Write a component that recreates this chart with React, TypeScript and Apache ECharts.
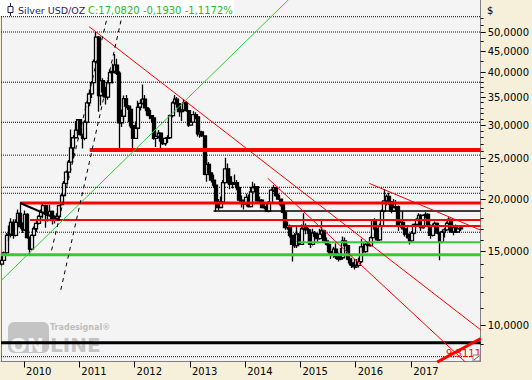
import React, { useEffect, useRef } from 'react';
import * as echarts from 'echarts';

const FONT = '"DejaVu Sans", Verdana, sans-serif';

// ---- axis extents ----
const X_MIN = '2009-08-02';
const X_MAX = '2018-04-05';
const Y_MIN = 8.21;
const Y_MAX = 59.59;

const yearTicks = [2010, 2011, 2012, 2013, 2014, 2015, 2016, 2017];
const priceLabels = [10, 15, 20, 25, 30, 35, 40, 45, 50];
const minorPriceTicks = [9, 11, 12, 13, 14, 16, 17, 18, 19, 21, 22, 23, 24, 26, 27, 28, 29, 31, 32, 33, 34, 36, 37, 38, 39, 42.5, 47.5, 52, 54];

// ---- semi-monthly candles [open, close, low, high] ----
const ohlc2009 = [
  [14.0, 14.3, 13.9, 14.9], [14.3, 14.9, 14.2, 15.0],
  [14.9, 16.4, 14.8, 16.6], [16.4, 16.5, 15.9, 17.3],
  [16.5, 17.6, 16.2, 18.0], [17.6, 16.4, 16.1, 17.9],
  [16.4, 17.6, 16.3, 17.9], [17.6, 18.5, 17.4, 18.9],
  [18.5, 17.2, 17.0, 19.55], [17.2, 16.9, 16.6, 17.6],
];
const ohlc2010 = [
  [16.9, 18.4, 16.8, 18.8], [18.4, 16.2, 16.1, 18.5],
  [16.2, 15.2, 14.8, 16.3], [15.2, 16.4, 15.1, 16.5],
  [16.4, 17.0, 16.2, 17.2], [17.0, 17.5, 16.7, 17.8],
  [17.5, 18.2, 17.4, 18.3], [18.2, 18.6, 17.8, 18.9],
  [18.6, 19.3, 18.0, 19.6], [19.3, 18.4, 17.1, 19.4],
  [18.4, 18.3, 17.7, 18.6], [18.3, 18.7, 18.2, 19.4],
  [18.7, 17.8, 17.4, 18.8], [17.8, 18.0, 17.5, 18.3],
  [18.0, 18.2, 17.8, 18.5], [18.2, 19.3, 18.0, 19.4],
  [19.4, 20.4, 19.3, 20.6], [20.4, 21.8, 20.3, 22.1],
  [21.8, 23.2, 21.7, 23.4], [23.2, 24.5, 22.5, 24.8],
  [24.5, 26.5, 24.4, 29.3], [26.5, 28.0, 25.0, 28.4],
  [28.0, 29.2, 27.9, 30.7], [29.2, 30.9, 28.6, 31.0],
];
const ohlc2011 = [
  [30.9, 28.5, 28.3, 31.0], [28.5, 27.9, 26.4, 28.6],
  [27.9, 30.5, 27.6, 30.8], [30.5, 33.9, 30.3, 34.3],
  [33.9, 35.6, 33.3, 36.5], [35.6, 37.9, 34.8, 38.2],
  [37.9, 42.5, 37.7, 43.0], [42.5, 48.6, 42.3, 50.0],
  [48.6, 35.3, 32.3, 48.9], [35.3, 38.3, 33.4, 39.0],
  [38.3, 36.0, 35.1, 38.8], [36.0, 35.0, 33.6, 37.0],
  [35.0, 37.9, 34.5, 38.4], [37.9, 40.0, 37.5, 40.7],
  [40.0, 40.3, 37.7, 42.0], [40.3, 41.7, 39.8, 44.3],
  [41.7, 39.9, 39.5, 43.2], [39.9, 30.4, 26.1, 40.3],
  [30.4, 31.5, 29.7, 32.7], [31.5, 34.7, 30.8, 35.3],
  [34.7, 33.3, 32.9, 35.4], [33.3, 32.7, 30.5, 33.5],
  [32.7, 29.9, 29.5, 33.2], [29.9, 27.9, 26.1, 30.1],
];
const ohlc2012 = [
  [27.9, 29.5, 27.8, 30.6], [29.5, 33.1, 29.3, 34.3],
  [33.1, 33.8, 32.5, 34.6], [33.8, 34.6, 33.6, 37.5],
  [34.6, 33.0, 32.9, 35.4], [33.0, 32.5, 31.6, 33.2],
  [32.5, 31.6, 31.0, 32.9], [31.6, 31.2, 30.5, 31.7],
  [31.2, 27.9, 27.7, 31.3], [27.9, 28.2, 26.6, 28.9],
  [28.2, 28.7, 27.9, 29.2], [28.7, 27.5, 26.1, 28.8],
  [27.5, 27.1, 26.9, 28.0], [27.1, 27.9, 26.8, 28.1],
  [27.9, 28.0, 27.2, 28.4], [28.0, 31.6, 27.9, 31.8],
  [31.6, 33.9, 31.3, 34.2], [33.9, 34.6, 33.6, 35.4],
  [34.6, 33.7, 33.0, 35.0], [33.7, 32.3, 31.4, 33.9],
  [32.3, 32.6, 30.7, 32.7], [32.6, 33.9, 32.4, 34.6],
  [33.9, 32.5, 32.3, 34.2], [32.5, 30.0, 29.7, 32.6],
];
const ohlc2013 = [
  [30.0, 30.5, 29.9, 31.3], [30.5, 31.8, 30.4, 32.4],
  [31.8, 31.4, 31.0, 32.2], [31.4, 28.6, 28.2, 31.5],
  [28.6, 28.9, 28.0, 29.2], [28.9, 28.3, 28.1, 29.1],
  [28.3, 22.9, 22.8, 28.4], [22.9, 24.2, 22.0, 24.9],
  [24.2, 23.1, 22.8, 24.5], [23.1, 22.2, 21.9, 22.9],
  [22.2, 21.6, 21.3, 22.9], [21.6, 19.7, 18.65, 21.7],
  [19.7, 19.1, 18.8, 20.0], [19.1, 19.7, 19.1, 20.3],
  [19.7, 21.9, 19.5, 22.2], [21.9, 23.6, 21.8, 25.1],
  [23.6, 22.6, 21.8, 24.3], [22.6, 21.7, 21.1, 23.7],
  [21.7, 21.8, 21.2, 22.0], [21.8, 21.9, 21.6, 22.9],
  [21.9, 21.3, 21.0, 22.2], [21.3, 19.9, 19.7, 21.4],
  [19.9, 19.6, 19.1, 20.4], [19.6, 19.5, 18.9, 19.8],
];
const ohlc2014 = [
  [19.5, 20.2, 19.2, 20.6], [20.2, 19.2, 19.1, 20.5],
  [19.2, 20.8, 19.2, 21.4], [20.8, 21.3, 20.7, 22.0],
  [21.3, 21.4, 20.8, 21.8], [21.4, 19.8, 19.6, 21.5],
  [19.8, 19.9, 19.6, 20.3], [19.9, 19.1, 19.1, 20.0],
  [19.1, 19.2, 18.9, 19.6], [19.2, 18.7, 18.7, 19.5],
  [18.7, 19.6, 18.6, 19.8], [19.6, 21.0, 19.5, 21.2],
  [21.0, 21.3, 20.8, 21.6], [21.3, 20.4, 20.3, 21.2],
  [20.4, 20.0, 19.9, 20.6], [20.0, 19.4, 19.2, 20.0],
  [19.4, 18.6, 18.5, 19.5], [18.6, 17.1, 16.9, 18.7],
  [17.1, 17.3, 16.9, 17.7], [17.3, 16.4, 16.2, 17.4],
  [16.4, 15.6, 14.2, 16.4], [15.6, 15.5, 15.3, 16.6],
  [15.5, 16.5, 15.3, 17.3], [16.5, 15.6, 15.5, 16.6],
];
const ohlc2015 = [
  [15.6, 17.0, 15.6, 17.4], [17.0, 17.2, 16.9, 18.5],
  [17.2, 16.9, 16.5, 17.5], [16.9, 16.6, 15.7, 17.1],
  [16.6, 15.6, 15.3, 16.7], [15.6, 16.6, 15.5, 17.0],
  [16.6, 16.3, 16.0, 16.8], [16.3, 16.1, 15.7, 16.6],
  [16.1, 16.5, 16.0, 17.0], [16.5, 16.8, 16.4, 17.8],
  [16.8, 15.9, 15.7, 16.9], [15.9, 15.6, 15.5, 16.2],
  [15.6, 15.0, 14.8, 15.8], [15.0, 14.7, 14.4, 15.1],
  [14.7, 15.2, 14.5, 15.4], [15.2, 14.6, 14.4, 15.7],
  [14.6, 14.4, 14.2, 14.9], [14.4, 14.5, 14.3, 15.3],
  [14.5, 15.9, 14.5, 16.3], [15.9, 15.5, 15.4, 16.2],
  [15.5, 14.4, 14.3, 15.6], [14.4, 14.1, 13.9, 14.5],
  [14.1, 13.9, 13.7, 14.5], [13.9, 13.8, 13.6, 14.4],
];
const ohlc2016 = [
  [13.8, 13.9, 13.7, 14.4], [13.9, 14.2, 13.9, 14.5],
  [14.2, 15.4, 14.1, 16.1], [15.4, 15.0, 14.9, 15.7],
  [15.0, 15.6, 14.9, 15.9], [15.6, 15.5, 15.0, 15.7],
  [15.5, 16.2, 15.4, 16.3], [16.2, 17.8, 16.2, 17.9],
  [17.8, 17.0, 16.9, 18.0], [17.0, 16.0, 15.9, 17.1],
  [16.0, 17.3, 15.9, 17.5], [17.3, 18.7, 16.9, 18.9],
  [18.7, 19.8, 18.6, 21.1], [19.8, 20.3, 19.3, 20.5],
  [20.3, 19.7, 19.4, 20.7], [19.7, 18.7, 18.5, 19.8],
  [18.7, 19.1, 18.7, 20.0], [19.1, 19.2, 18.8, 19.9],
  [19.2, 17.3, 16.8, 19.3], [17.3, 17.6, 17.1, 17.8],
  [17.6, 17.0, 17.0, 18.7], [17.0, 16.5, 16.3, 17.1],
  [16.5, 16.2, 16.1, 17.2], [16.2, 15.9, 15.6, 16.3],
];
const ohlc2017 = [
  [15.9, 16.6, 15.8, 16.8], [16.6, 17.4, 16.5, 17.5],
  [17.4, 17.9, 17.3, 18.0], [17.9, 18.3, 17.8, 18.5],
  [18.3, 17.1, 16.8, 18.4], [17.1, 18.3, 17.0, 18.4],
  [18.3, 18.4, 18.0, 18.6], [18.4, 17.3, 17.2, 18.5],
  [17.3, 16.4, 16.1, 17.4], [16.4, 17.3, 16.3, 17.5],
  [17.3, 17.5, 17.2, 17.7], [17.5, 16.6, 16.5, 17.6],
  [16.6, 15.8, 14.3, 16.7], [15.8, 16.7, 15.7, 16.8],
  [16.7, 16.9, 16.2, 17.1], [16.9, 17.5, 16.8, 17.7],
  [17.5, 17.9, 17.4, 18.1], [17.9, 16.7, 16.6, 17.9],
  [16.7, 17.1, 16.4, 17.3], [17.1, 16.7, 16.6, 17.4],
  [16.7, 17.0, 16.7, 17.3], [17.0, 17.08, 16.8, 17.3],
];

// ---- horizontal levels ----
const blackDottedLevels = [54.37, 37.97, 30.48, 21.34];
const blueDottedLevels = [50.0, 25.45, 20.65, 16.68, 8.43];
const redLevelPrices = [26.19, 19.58, 17.83, 17.26];
const redLevelStarts = ['2011-03-11', '2009-12-06', '2010-02-09', '2014-10-09'];
const greenLevelPrices = [14.75, 15.79];
const greenLevelStarts = [X_MIN, '2014-12-18'];
const blackLevelPrices = [9.1, 18.74];
const blackLevelStarts = [X_MIN, '2013-06-06'];

// ---- trend lines [date, price] ----
const peakTrend: [string, number][] = [['2011-03-07', 51.5], ['2018-04-06', 9.76]];
const trend2014: [string, number][] = [['2014-05-30', 22.42], ['2018-01-19', 8.03]];
const trend2016: [string, number][] = [['2016-03-31', 21.8], ['2018-04-05', 16.87]];
const supportTrend: [string, number][] = [['2009-08-02', 12.79], ['2014-10-20', 59.99]];
const channelUpper: [string, number][] = [['2010-07-02', 15.1], ['2011-08-01', 59.6]];
const channelLower: [string, number][] = [['2010-09-01', 12.16], ['2011-11-03', 59.6]];
const wedge2010: [string, number][] = [['2009-12-06', 19.58], ['2010-08-26', 17.83]];
const risingLine: [string, number][] = [['2017-06-22', 8.18], ['2018-04-06', 9.3111]];

const ts = (d: string) => Date.parse(d + 'T00:00:00Z');

function buildDates(): string[] {
  const out: string[] = [];
  let y = 2009;
  let m = 8;
  while (y < 2017 || (y === 2017 && m <= 11)) {
    const mm = String(m).padStart(2, '0');
    out.push(`${y}-${mm}-08`, `${y}-${mm}-23`);
    m++;
    if (m > 12) { m = 1; y++; }
  }
  return out;
}

export default function App() {
  const ref = useRef<HTMLDivElement>(null);
  useEffect(() => {
    document.body.style.margin = '0';
    if (!ref.current) return;
    const chart = echarts.init(ref.current, undefined, { renderer: 'svg' });
    const dates = buildDates();
    const all = [...ohlc2009, ...ohlc2010, ...ohlc2011, ...ohlc2012, ...ohlc2013, ...ohlc2014, ...ohlc2015, ...ohlc2016, ...ohlc2017];
    const candleData = all.map((v, i) => [ts(dates[i]), v[0], v[1], v[2], v[3]]);
    const yearValues = yearTicks.map((y) => Date.UTC(y, 0, 1));

    const pts = (arr: [string, number][]) => arr.map(([d, p]) => [ts(d), p]);
    const line = (data: any[], color: string, width: number, type: any = 'solid', z = 3) => ({
      type: 'line', data, symbol: 'none', silent: true, z, clip: true,
      lineStyle: { color, width, type },
    });
    const level = (from: string, price: number) => [[ts(from), price], [ts(X_MAX), price]];

    const series: any[] = [];
    blackDottedLevels.forEach((p) => series.push(line(level(X_MIN, p), '#000000', 1, [1, 1], 1)));
    blueDottedLevels.forEach((p) => series.push(line(level(X_MIN, p), '#0000b0', 1, [1, 1], 1)));
    series.push({
      type: 'candlestick', data: candleData, barWidth: 3.5, z: 2,
      itemStyle: { color: '#ffffff', color0: '#000000', borderColor: '#000000', borderColor0: '#000000', borderWidth: 1.3 },
    });
    const redWidths = [4, 3, 2, 2];
    redLevelPrices.forEach((p, i) => series.push(line(level(redLevelStarts[i], p), '#ff0000', redWidths[i])));
    const greenWidths = [3, 2];
    greenLevelPrices.forEach((p, i) => series.push(line(level(greenLevelStarts[i], p), '#33cc33', greenWidths[i])));
    const blackWidths = [3, 1.5];
    blackLevelPrices.forEach((p, i) => series.push(line(level(blackLevelStarts[i], p), '#000000', blackWidths[i])));
    series.push(line(pts(peakTrend), '#ff0000', 1));
    series.push(line(pts(trend2014), '#ff0000', 1));
    series.push(line(pts(trend2016), '#ff0000', 1));
    series.push(line(pts(supportTrend), '#33cc33', 1));
    series.push(line(pts(channelUpper), '#000000', 1, [4, 4]));
    series.push(line(pts(channelLower), '#000000', 1, [4, 4]));
    series.push(line(pts(wedge2010), '#000000', 2));
    series.push(line(pts(risingLine), '#ff0000', 3));

    const borderLine = { show: true, lineStyle: { color: '#808080', width: 1 } };

    const option: any = {
      animation: false,
      backgroundColor: '#f6f0da',
      grid: {
        left: 1, right: 50.5, top: 0, bottom: 18.5, show: true,
        backgroundColor: '#f4f4f4', borderWidth: 0,
      },
      xAxis: {
        type: 'value', min: ts(X_MIN), max: ts(X_MAX), scale: true,
        axisLine: { ...borderLine, onZero: false },
        splitLine: { show: false },
        axisTick: { show: true, customValues: yearValues, length: 6, lineStyle: { color: '#000' } },
        axisLabel: {
          customValues: yearValues,
          formatter: (v: number) => String(new Date(v).getUTCFullYear()),
          align: 'left', padding: [0, 0, 0, 2], margin: 5,
          color: '#000', fontFamily: FONT, fontSize: 10,
        },
      },
      yAxis: [
        {
          type: 'log', logBase: 10, position: 'right', min: Y_MIN, max: Y_MAX,
          axisLine: { ...borderLine, onZero: false }, splitLine: { show: false },
          axisTick: { show: true, customValues: priceLabels, length: 5, lineStyle: { color: '#000' } },
          axisLabel: {
            customValues: priceLabels,
            formatter: (v: number) => Number(v).toFixed(4).replace('.', ','),
            margin: 7, color: '#000', fontFamily: FONT, fontSize: 10,
          },
        },
        {
          type: 'log', logBase: 10, position: 'right', min: Y_MIN, max: Y_MAX,
          axisLine: { show: false }, splitLine: { show: false },
          axisTick: { show: true, customValues: minorPriceTicks, length: 3, lineStyle: { color: '#000' } },
          axisLabel: { show: false },
        },
        {
          type: 'log', logBase: 10, position: 'left', min: Y_MIN, max: Y_MAX,
          axisLine: { ...borderLine, onZero: false }, splitLine: { show: false },
          axisTick: { show: false }, axisLabel: { show: false },
        },
      ],
      series,
      graphic: [
        { type: 'rect', z: 1, shape: { x: 8, y: 322, width: 41, height: 31, r: 6 }, style: { fill: '#c4c4c4' } },
        { type: 'text', z: 1, x: 10, y: 355, style: { text: 'ON', font: `bold 20px ${FONT}`, fill: '#f4f4f4', verticalAlign: 'bottom' } },
        { type: 'text', z: 1, x: 50, y: 355, style: { text: 'LINE', font: `bold 20px ${FONT}`, fill: '#c4c4c4', verticalAlign: 'bottom' } },
        { type: 'text', z: 1, x: 50, y: 323, style: { text: 'Tradesignal®', font: `bold 8px ${FONT}`, fill: '#bdbdbd', verticalAlign: 'top' } },
        { type: 'rect', z: 50, shape: { x: 0, y: 0, width: 234, height: 16 }, style: { fill: '#ffffff' } },
        { type: 'line', z: 51, shape: { x1: 10.5, y1: 3, x2: 10.5, y2: 16 }, style: { stroke: '#1e1e5a', lineWidth: 1 } },
        { type: 'rect', z: 52, shape: { x: 8, y: 6.5, width: 5, height: 6 }, style: { fill: '#ffffff', stroke: '#1e1e5a', lineWidth: 1 } },
        { type: 'text', z: 52, x: 18, y: 10, style: { text: 'Silver USD/OZ', font: `9.5px ${FONT}`, fill: '#1e1e5a', verticalAlign: 'middle' } },
        { type: 'text', z: 52, x: 88, y: 10, style: { text: 'C:17,0820 -0,1930 -1,1172%', font: `10px ${FONT}`, fill: '#22bb22', verticalAlign: 'middle' } },
        { type: 'text', z: 52, x: 487, y: 10, style: { text: '$', font: `10px ${FONT}`, fill: '#000000', verticalAlign: 'middle' } },
        { type: 'text', z: 40, x: 446, y: 353, style: { text: '9,3111', font: `10px ${FONT}`, fill: '#ff0000', verticalAlign: 'middle' } },
        { type: 'rect', z: 41, shape: { x: 473, y: 355, width: 7, height: 6 }, style: { fill: '#ffffff', stroke: '#808080', lineWidth: 1 } },
        { type: 'line', z: 42, shape: { x1: 474, y1: 360, x2: 479, y2: 356 }, style: { stroke: '#505050', lineWidth: 1 } },
      ],
    };
    chart.setOption(option);
    return () => chart.dispose();
  }, []);
  return <div ref={ref} style={{ position: 'absolute', left: 0, top: 0, width: 532, height: 380 }} />;
}
